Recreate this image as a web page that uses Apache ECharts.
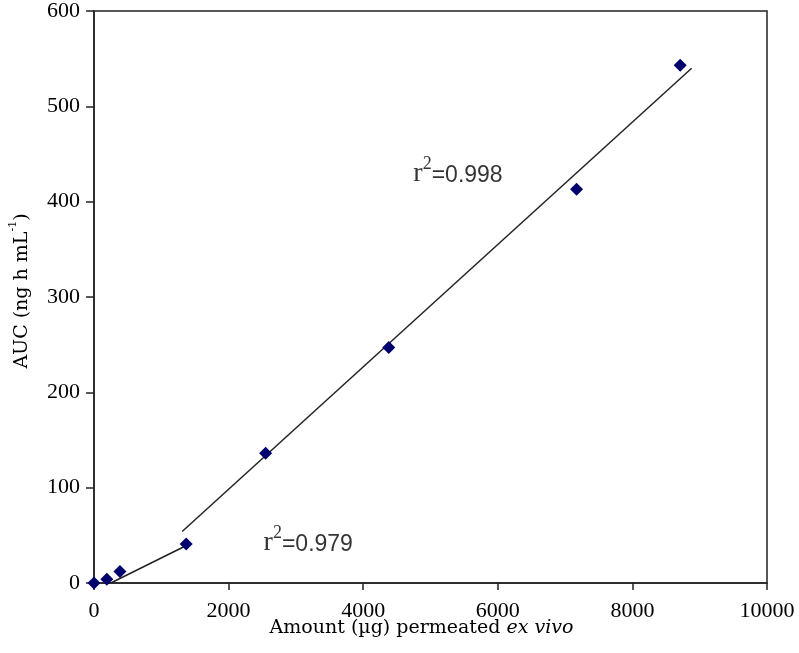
<!DOCTYPE html>
<html>
<head>
<meta charset="utf-8">
<script src="https://cdn.jsdelivr.net/npm/echarts@6/dist/echarts.min.js"></script>
<style>
html, body { margin: 0; padding: 0; background: #fff; }
#main { width: 799px; height: 653px; }
</style>
</head>
<body>
<div id="main"></div>
<script>
// measured points: amount permeated (ug) vs AUC
var amount = [0, 190, 385, 1370, 2550, 4380, 7170, 8710];
var auc = [0, 4, 12, 41, 136, 247, 413, 543];

// fitted lines (end points)
var lowFitX = [250, 1335];
var lowFitY = [0, 38];
var highFitX = [1310, 8880];
var highFitY = [54, 540];

// r2 labels
var r2Text = ['0.998', '0.979'];
var r2X = [4745, 2520];
var r2Y = [434, 47];

function pairs(xs, ys) {
    var res = [];
    for (var i = 0; i < xs.length; i++) res.push([xs[i], ys[i]]);
    return res;
}

var myChart = echarts.init(document.getElementById('main'));
var serif = '"Liberation Serif", "DejaVu Serif", serif';
var wide = '"DejaVu Serif", serif';
var sans = '"Liberation Sans", Arial, sans-serif';

var option = {
    backgroundColor: '#fff',
    animation: false,
    grid: {
        left: 93, right: 32, top: 10, bottom: 70,
        show: true, borderColor: '#222', borderWidth: 1.5
    },
    xAxis: {
        type: 'value', min: 0, max: 10000, interval: 2000,
        splitLine: { show: false },
        axisLine: { lineStyle: { color: '#222', width: 1.5 } },
        axisTick: { show: true, length: 7, lineStyle: { color: '#222', width: 1.5 } },
        axisLabel: {
            color: '#000', fontFamily: serif, fontSize: 22, margin: 17,
            formatter: function (v) { return String(v); }
        },
        name: '{a|Amount (\u00b5g) permeated }{i|ex vivo}',
        nameLocation: 'middle',
        nameGap: 36,
        nameMoveOverlap: false,
        nameTextStyle: {
            padding: [0, 18, 0, 0],
            rich: {
                a: { fontFamily: wide, fontSize: 19, color: '#000' },
                i: { fontFamily: wide, fontSize: 19, fontStyle: 'italic', color: '#000' }
            }
        }
    },
    yAxis: {
        type: 'value', min: 0, max: 600, interval: 100,
        splitLine: { show: false },
        axisLine: { lineStyle: { color: '#222', width: 1.5 } },
        axisTick: { show: true, length: 8, lineStyle: { color: '#222', width: 1.5 } },
        axisLabel: { color: '#000', fontFamily: serif, fontSize: 22, margin: 14 },
        name: '{a|AUC (ng h mL}{s|-1}{a|)}',
        nameLocation: 'middle',
        nameRotate: 90,
        nameGap: 62,
        nameTextStyle: {
            padding: [0, 0, 0, 12],
            rich: {
                a: { fontFamily: wide, fontSize: 19, color: '#000', lineHeight: 24, verticalAlign: 'bottom' },
                s: { fontFamily: wide, fontSize: 11, color: '#000', lineHeight: 24, verticalAlign: 'top' }
            }
        }
    },
    series: [
        {
            type: 'line',
            data: pairs(lowFitX, lowFitY),
            symbol: 'none',
            lineStyle: { color: '#222', width: 1.5 },
            z: 1
        },
        {
            type: 'line',
            data: pairs(highFitX, highFitY),
            symbol: 'none',
            lineStyle: { color: '#222', width: 1.5 },
            z: 1
        },
        {
            type: 'scatter',
            data: pairs(amount, auc),
            symbol: 'diamond',
            symbolSize: 13,
            itemStyle: { color: '#00006e', opacity: 1 },
            z: 3
        },
        {
            type: 'scatter',
            data: pairs(r2X, r2Y).map(function (p, i) {
                return { value: p, label: { formatter: '{r|r}{s|2}{v|=' + r2Text[i] + '}' } };
            }),
            symbolSize: 0,
            silent: true,
            label: {
                show: true,
                position: 'right',
                distance: 0,
                rich: {
                    r: { fontFamily: serif, fontSize: 28, color: '#000', lineHeight: 36, verticalAlign: 'bottom' },
                    s: { fontFamily: serif, fontSize: 18, color: '#000', lineHeight: 36, verticalAlign: 'top', padding: [4, 0, 0, 0] },
                    v: { fontFamily: sans, fontSize: 23, color: '#000', lineHeight: 36, verticalAlign: 'bottom' }
                }
            }
        }
    ]
};

myChart.setOption(option);
window.addEventListener('resize', function () {
    myChart.resize();
});
</script>
</body>
</html>
